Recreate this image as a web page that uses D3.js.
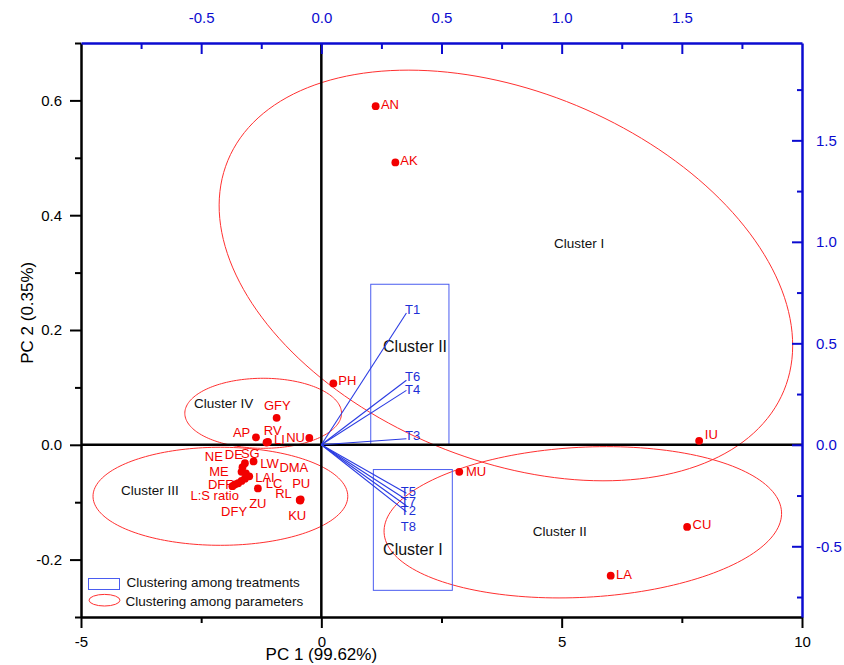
<!DOCTYPE html>
<html>
<head>
<meta charset="utf-8">
<script src="https://cdn.jsdelivr.net/npm/d3@7"></script>
<style>
  html, body { margin: 0; padding: 0; background: #fff; }
  svg { display: block; font-family: "Liberation Sans", Arial, Helvetica, sans-serif; }
</style>
</head>
<body>
<svg id="chart" width="844" height="665"></svg>
<script>
// ---- Parameter scores (bottom / left axes) ----
const paramNames = ["AN", "AK", "PH", "NU", "IU", "CU", "LA", "MU", "GFY", "AP", "RV", "LI",
  "LW", "SG", "DE", "NE", "ME", "LAI", "DMA", "LC", "DFF", "L:S ratio", "DFY", "ZU", "KU", "RL", "PU"];
const pc1Scores = [1.13, 1.54, 0.25, -0.25, 7.86, 7.61, 6.02, 2.87, -0.93, -1.36, -1.14, -1.11,
  -1.41, -1.59, -1.64, -1.66, -1.57, -1.50, -1.59, -1.66, -1.73, -1.80, -1.85, -1.32, -0.44, -0.45, -0.43];
const pc2Scores = [0.590, 0.492, 0.107, 0.012, 0.007, -0.143, -0.228, -0.047, 0.047, 0.013, 0.004, 0.005,
  -0.029, -0.032, -0.039, -0.047, -0.050, -0.055, -0.059, -0.063, -0.067, -0.069, -0.072, -0.076, -0.097, -0.096, -0.095];

// ---- Treatment loadings (top / right axes) ----
const treatmentNames = ["T1", "T6", "T4", "T3", "T5", "T7", "T2", "T8"];
const loadPC1 = [0.354, 0.354, 0.354, 0.354, 0.354, 0.354, 0.354, 0.354];
const loadPC2 = [0.649, 0.318, 0.268, 0.030, -0.239, -0.271, -0.300, -0.330];

// ---- Tick values ----
const bottomTicks = [-5, 0, 5, 10];
const bottomMinor = [-2.5, 2.5, 7.5];
const leftTicks = [-0.2, 0.0, 0.2, 0.4, 0.6];
const leftMinor = [-0.3, -0.1, 0.1, 0.3, 0.5, 0.7];
const topTicks = [-0.5, 0.0, 0.5, 1.0, 1.5];
const topMinor = [-0.75, -0.25, 0.25, 0.75, 1.25, 1.75];
const rightTicks = [-0.5, 0.0, 0.5, 1.0, 1.5];
const rightMinor = [-0.75, -0.25, 0.25, 0.75, 1.25, 1.75];

// ---- Parameter cluster ellipses (PC1/PC2 units) ----
const ellipseNames = ["Cluster I", "Cluster II", "Cluster III", "Cluster IV"];
const ellipseCenterPC1 = [3.84, 5.44, -2.10, -1.21];
const ellipseCenterPC2 = [0.295, -0.135, -0.0897, 0.0549];
const ellipseRadiusPC1 = [6.26, 4.14, 2.65, 1.63];
const ellipseRadiusPC2 = [0.3206, 0.1307, 0.0854, 0.061];
const ellipseTilt = [22.5, -3, 0, 0];
const ellipseLabelPC1 = [4.84, 4.40, -4.17, -2.65];
const ellipseLabelPC2 = [0.351, -0.151, -0.0793, 0.0728];

// ---- Treatment cluster boxes (top/right units) ----
const boxNames = ["Cluster II", "Cluster I"];
const boxX0 = [0.2056, 0.2164];
const boxX1 = [0.531, 0.545];
const boxY0 = [0.0, -0.717];
const boxY1 = [0.791, -0.122];
const boxLabelX = [0.390, 0.381];
const boxLabelY = [0.485, -0.515];

// ---- Layout ----
const W = 844, H = 665;
const plot = { left: 81, right: 802, top: 43, bottom: 617 };
const BLUE = "#0b0bd0";
const RED = "#f20000";

const x = d3.scaleLinear().domain([-5, 10]).range([plot.left, plot.right]);
const y = d3.scaleLinear().domain([-0.3, 0.7]).range([plot.bottom, plot.top]);
const x2 = d3.scaleLinear().domain([-1, 2]).range([plot.left, plot.right]);
const k2 = 2.828;
const y2 = d3.scaleLinear().domain([-0.3 * k2, 0.7 * k2]).range([plot.bottom, plot.top]);

const svg = d3.select("#chart");
svg.append("rect").attr("width", W).attr("height", H).attr("fill", "#fff");

// label offsets (px) from each marker to its text
const paramLabelOffset = {
  "AN": [5.3, -1.7], "AK": [5, -2], "PH": [5, -2.6], "NU": [-23.1, -0.4], "IU": [5.7, -6.7],
  "CU": [5.4, -2], "LA": [5.3, -1.7], "MU": [6.7, -0.7], "GFY": [-12.7, -12.3], "AP": [-23, -4.6],
  "RV": [-2.7, -12], "LI": [6, -2.2], "LW": [6.7, 1.7], "SG": [-4, -10], "DE": [-17.7, -12.7],
  "NE": [-36.7, -15.7], "ME": [-36.7, -1.6], "LAI": [6, 0.7], "DMA": [34.5, -11.6], "LC": [24.3, 2],
  "DFF": [-30.3, 1.3], "L:S ratio": [-44.3, 11], "DFY": [-11.3, 25], "ZU": [-8.7, 15],
  "KU": [-12, 15], "RL": [-24.5, -6.2], "PU": [-8.5, -16.3]
};
const treatLabelOffset = {
  "T1": [-1.3, -3.7], "T6": [-1.3, -4.3], "T4": [-1.3, -0.7], "T3": [-1.3, -3.3],
  "T5": [-5.6, -2.3], "T7": [-5.6, 1.2], "T2": [-5.6, 4.5], "T8": [-5.6, 15]
};

// ---- Parameter cluster ellipses ----
function ellipsePoints(i) {
  const cx = x(ellipseCenterPC1[i]), cy = y(ellipseCenterPC2[i]);
  const rx = x(ellipseCenterPC1[i] + ellipseRadiusPC1[i]) - cx;
  const ry = cy - y(ellipseCenterPC2[i] + ellipseRadiusPC2[i]);
  const th = ellipseTilt[i] * Math.PI / 180;
  return d3.range(0, 360, 2).map(deg => {
    const t = deg * Math.PI / 180;
    return [cx + rx * Math.cos(t) * Math.cos(th) - ry * Math.sin(t) * Math.sin(th),
            cy + rx * Math.cos(t) * Math.sin(th) + ry * Math.sin(t) * Math.cos(th)];
  });
}
const ellipseLine = d3.line().curve(d3.curveCardinalClosed);
svg.append("g").selectAll("path").data(ellipseNames).join("path")
  .attr("d", (d, i) => ellipseLine(ellipsePoints(i)))
  .attr("fill", "none").attr("stroke", "#ff3030").attr("stroke-width", 1);

svg.append("g").selectAll("text").data(ellipseNames).join("text")
  .attr("x", (d, i) => x(ellipseLabelPC1[i]))
  .attr("y", (d, i) => y(ellipseLabelPC2[i]))
  .attr("dy", "0.35em")
  .attr("font-size", 13.5).attr("fill", "#111")
  .text(d => d);

// ---- Treatment boxes ----
svg.append("g").selectAll("rect").data(boxNames).join("rect")
  .attr("x", (d, i) => x2(boxX0[i]))
  .attr("y", (d, i) => y2(boxY1[i]))
  .attr("width", (d, i) => x2(boxX1[i]) - x2(boxX0[i]))
  .attr("height", (d, i) => y2(boxY0[i]) - y2(boxY1[i]))
  .attr("fill", "none").attr("stroke", "#4a5cf0").attr("stroke-width", 1);

svg.append("g").selectAll("text").data(boxNames).join("text")
  .attr("x", (d, i) => x2(boxLabelX[i]))
  .attr("y", (d, i) => y2(boxLabelY[i]))
  .attr("dy", "0.35em").attr("text-anchor", "middle")
  .attr("font-size", 16).attr("fill", "#111")
  .text(d => d);

// ---- Zero lines ----
svg.append("line").attr("x1", x(0)).attr("x2", x(0)).attr("y1", plot.top).attr("y2", plot.bottom)
  .attr("stroke", "#000").attr("stroke-width", 2.5);
svg.append("line").attr("x1", plot.left).attr("x2", plot.right).attr("y1", y(0)).attr("y2", y(0))
  .attr("stroke", "#000").attr("stroke-width", 2.5);

// ---- Treatment vectors ----
const vec = svg.append("g");
vec.selectAll("line").data(treatmentNames).join("line")
  .attr("x1", x2(0)).attr("y1", y2(0))
  .attr("x2", (d, i) => x2(loadPC1[i]))
  .attr("y2", (d, i) => y2(loadPC2[i]))
  .attr("stroke", "#2a3be2").attr("stroke-width", 1.1);
vec.selectAll("text").data(treatmentNames).join("text")
  .attr("x", (d, i) => x2(loadPC1[i]) + treatLabelOffset[d][0])
  .attr("y", (d, i) => y2(loadPC2[i]) + treatLabelOffset[d][1])
  .attr("dy", "0.35em")
  .attr("font-size", 13).attr("fill", "#1d2fd6")
  .text(d => d);

// ---- Parameter points ----
const pts = svg.append("g");
pts.selectAll("circle").data(paramNames).join("circle")
  .attr("cx", (d, i) => x(pc1Scores[i]))
  .attr("cy", (d, i) => y(pc2Scores[i]))
  .attr("r", 3.9).attr("fill", RED);
pts.selectAll("text").data(paramNames).join("text")
  .attr("x", (d, i) => x(pc1Scores[i]) + paramLabelOffset[d][0])
  .attr("y", (d, i) => y(pc2Scores[i]) + paramLabelOffset[d][1])
  .attr("dy", "0.35em")
  .attr("font-size", 13).attr("fill", RED)
  .text(d => d);

// ---- Axes ----
const fmt1 = v => v.toFixed(1);
function styleAxis(g, color, width) {
  g.attr("color", color);
  g.select(".domain").attr("stroke-width", width);
  g.selectAll(".tick line").attr("stroke-width", 2);
  g.selectAll(".tick text").attr("font-size", 15).attr("fill", color)
    .attr("font-family", "\"Liberation Sans\", Arial, sans-serif");
}

// bottom
const gb = svg.append("g").attr("transform", `translate(0,${plot.bottom})`)
  .call(d3.axisBottom(x).tickValues(bottomTicks).tickFormat(d => String(d))
    .tickSize(11).tickSizeOuter(0).tickPadding(8));
styleAxis(gb, "#000", 2.5);
const gbm = svg.append("g").attr("transform", `translate(0,${plot.bottom})`)
  .call(d3.axisBottom(x).tickValues(bottomMinor).tickFormat("").tickSize(6).tickSizeOuter(0));
gbm.attr("color", "#000").select(".domain").remove();
gbm.selectAll(".tick line").attr("stroke-width", 2);

// left
const gl = svg.append("g").attr("transform", `translate(${plot.left},0)`)
  .call(d3.axisLeft(y).tickValues(leftTicks).tickFormat(fmt1)
    .tickSize(11).tickSizeOuter(0).tickPadding(8));
styleAxis(gl, "#000", 2.5);
const glm = svg.append("g").attr("transform", `translate(${plot.left},0)`)
  .call(d3.axisLeft(y).tickValues(leftMinor).tickFormat("").tickSize(6).tickSizeOuter(0));
glm.attr("color", "#000").select(".domain").remove();
glm.selectAll(".tick line").attr("stroke-width", 2);

// top (ticks point inward)
const gt = svg.append("g").attr("transform", `translate(0,${plot.top})`)
  .call(d3.axisTop(x2).tickValues(topTicks).tickFormat(fmt1)
    .tickSize(-11).tickSizeOuter(0).tickPadding(20));
styleAxis(gt, BLUE, 2.5);
const gtm = svg.append("g").attr("transform", `translate(0,${plot.top})`)
  .call(d3.axisTop(x2).tickValues(topMinor).tickFormat("").tickSize(-6).tickSizeOuter(0));
gtm.attr("color", BLUE).select(".domain").remove();
gtm.selectAll(".tick line").attr("stroke-width", 2);

// right (ticks point inward)
const gr = svg.append("g").attr("transform", `translate(${plot.right},0)`)
  .call(d3.axisRight(y2).tickValues(rightTicks).tickFormat(fmt1)
    .tickSize(-10).tickSizeOuter(0).tickPadding(14));
styleAxis(gr, BLUE, 2.5);
const grm = svg.append("g").attr("transform", `translate(${plot.right},0)`)
  .call(d3.axisRight(y2).tickValues(rightMinor).tickFormat("").tickSize(-5).tickSizeOuter(0));
grm.attr("color", BLUE).select(".domain").remove();
grm.selectAll(".tick line").attr("stroke-width", 2);

// axis titles
svg.append("text")
  .attr("x", x(0)).attr("y", 660)
  .attr("text-anchor", "middle").attr("font-size", 17).attr("fill", "#000")
  .text("PC 1 (99.62%)");
svg.append("text")
  .attr("transform", `translate(33,${y(0.23)}) rotate(-90)`)
  .attr("text-anchor", "middle").attr("font-size", 17).attr("fill", "#000")
  .text("PC 2 (0.35%)");

// ---- Legend ----
const legend = svg.append("g");
legend.append("rect").attr("x", 88.5).attr("y", 578.5).attr("width", 31).attr("height", 11)
  .attr("fill", "none").attr("stroke", "#4a5cf0").attr("stroke-width", 1);
legend.append("ellipse").attr("cx", 104.5).attr("cy", 600.2).attr("rx", 15.5).attr("ry", 5.8)
  .attr("fill", "none").attr("stroke", "#ff3030").attr("stroke-width", 1);
legend.append("text").attr("x", 126.5).attr("y", 582.5).attr("dy", "0.35em")
  .attr("font-size", 13.5).attr("fill", "#111").text("Clustering among treatments");
legend.append("text").attr("x", 125.5).attr("y", 601).attr("dy", "0.35em")
  .attr("font-size", 13.5).attr("fill", "#111").text("Clustering among parameters");
</script>
</body>
</html>
